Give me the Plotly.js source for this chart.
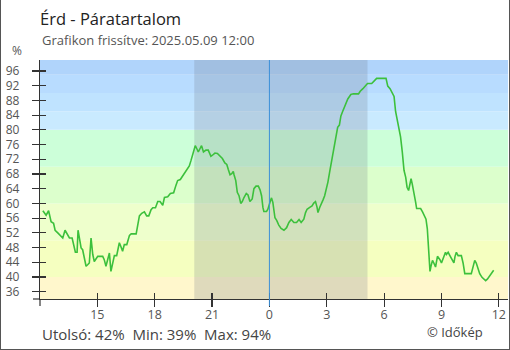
<!DOCTYPE html>
<html><head><meta charset="utf-8">
<script src="https://cdn.plot.ly/plotly-3.0.1.min.js"></script>
<style>
html,body{margin:0;padding:0;background:#fff;}
#wrap{position:relative;width:510px;height:350px;}
#chart{width:510px;height:350px;}
#frame{position:absolute;left:0;top:0;width:510px;height:350px;box-sizing:border-box;border-left:1px solid #555;border-right:1px solid #555;border-bottom:1px solid #555;pointer-events:none;}
</style></head><body>
<div id="wrap"><div id="chart"></div><div id="frame"></div></div>
<script>
// time in hours from noon of the previous day (24 = midnight)
const hours = [12.15,12.24,12.32,12.45,12.53,12.58,12.71,12.79,12.93,13.07,13.19,13.31,13.45,13.54,13.68,13.77,13.85,13.94,13.99,14.06,14.15,14.23,14.29,14.41,14.49,14.58,14.67,14.76,14.84,14.93,15.02,15.28,15.36,15.45,15.54,15.63,15.71,15.80,15.89,16.01,16.15,16.23,16.32,16.41,16.54,16.68,16.77,17.03,17.11,17.20,17.32,17.46,17.58,17.69,17.81,17.90,18.04,18.16,18.28,18.42,18.51,18.68,18.82,18.99,19.11,19.20,19.34,19.46,19.58,19.72,19.81,19.90,19.98,20.07,20.12,20.21,20.28,20.38,20.45,20.55,20.68,20.80,20.94,21.02,21.15,21.28,21.42,21.54,21.67,21.77,21.85,21.94,22.03,22.11,22.15,22.24,22.32,22.41,22.50,22.58,22.67,22.79,22.88,22.98,23.10,23.19,23.30,23.42,23.51,23.59,23.66,23.71,23.85,23.92,24.03,24.11,24.18,24.23,24.29,24.38,24.49,24.61,24.76,24.90,25.02,25.14,25.28,25.42,25.55,25.66,25.80,25.89,25.97,26.11,26.23,26.32,26.41,26.49,26.54,26.63,26.72,26.80,26.89,26.98,27.06,27.15,27.24,27.32,27.41,27.50,27.57,27.66,27.74,27.83,27.93,28.02,28.10,28.26,28.40,28.66,28.75,28.89,29.01,29.13,29.35,29.48,29.61,30.10,30.19,30.31,30.43,30.52,30.60,30.69,30.78,30.86,30.95,31.04,31.13,31.20,31.28,31.35,31.41,31.47,31.56,31.65,31.70,31.91,32.01,32.10,32.19,32.26,32.31,32.36,32.40,32.45,32.53,32.60,32.69,32.79,32.92,33.00,33.13,33.21,33.26,33.35,33.44,33.56,33.65,33.71,33.78,33.87,34.04,34.13,34.22,34.56,34.65,34.74,34.82,34.91,35.00,35.12,35.22,35.31,35.40,35.52,35.64,35.73];
const humidity = [58.0,57.5,56.8,58.0,56.1,55.0,54.6,52.7,52.0,51.3,50.6,52.7,51.6,50.6,50.6,48.8,46.7,46.7,52.7,50.6,47.9,47.4,46.1,42.9,43.3,43.8,50.6,46.1,44.2,45.1,45.6,45.6,44.7,42.9,45.1,46.5,41.5,43.3,45.8,45.8,49.3,48.3,47.0,48.8,48.8,51.3,51.7,51.7,53.9,56.6,57.3,57.7,56.6,56.6,58.3,58.8,58.8,60.5,60.5,59.5,61.6,61.8,62.7,62.9,64.9,66.2,66.5,67.4,68.3,69.4,70.2,71.7,73.1,74.5,75.7,74.8,74.0,75.0,75.7,74.0,74.5,74.5,72.8,73.1,73.7,73.6,72.8,72.2,71.0,70.6,69.2,67.8,68.1,68.7,67.8,66.2,63.0,62.1,60.0,60.5,61.6,62.7,62.3,60.5,61.2,64.0,64.7,64.7,63.7,62.1,58.9,57.8,57.8,58.4,60.3,61.5,60.3,58.0,56.1,55.4,54.1,53.2,52.7,53.4,54.8,55.6,54.8,54.8,55.6,54.8,55.7,57.5,58.4,58.9,59.3,60.1,60.5,59.0,57.5,58.9,59.8,60.9,62.1,64.0,65.8,68.5,71.3,73.6,76.3,79.1,80.7,81.3,83.8,85.0,86.4,87.3,88.4,89.6,89.8,89.8,90.5,91.2,91.9,92.6,92.6,93.3,94.0,94.0,91.9,91.2,90.2,89.1,85.0,82.7,80.4,78.1,74.0,69.0,67.1,64.4,63.5,65.8,66.7,65.3,62.1,60.3,58.6,58.6,57.7,56.6,55.7,53.1,48.5,43.8,41.5,42.9,44.5,43.8,42.7,45.6,44.7,43.8,45.8,46.7,46.1,46.7,45.8,44.5,43.8,45.6,46.7,45.8,45.8,43.8,40.9,40.9,42.4,44.5,43.8,42.0,40.9,39.9,39.3,39.0,39.4,40.3,41.0,41.8];

const xTickVals = [15,18,21,24,27,30,33,36];
const xTickLabels = ['15','18','21','0','3','6','9','12'];
const yTickVals = [36,40,44,48,52,56,60,64,68,72,76,80,84,88,92,96];

const bandLow = [0,40,50,60,70,80,85,90,95];
const bandHigh = [40,50,60,70,80,85,90,95,100];
const bandColors = ['#fff7cc','#f5ffc0','#eeffcc','#dcffcc','#ccffd9','#c9eaff','#bfe3ff','#b8dcff','#b0d4fb'];

const nightStart = 20.07;
const nightEnd = 29.13;
const midnight = 24;

const titleText = 'Érd - Páratartalom';
const subtitleText = 'Grafikon frissítve: 2025.05.09 12:00';
const statsText = 'Utolsó: 42%\u00A0\u00A0Min: 39%\u00A0\u00A0Max: 94%';
const creditText = '© Időkép';

const FONT = 'Open Sans, Noto Sans, sans-serif';
const plotW = 468, plotH = 239;

const shapes = [];
bandLow.forEach((lo, i) => {
  shapes.push({type:'rect', xref:'paper', yref:'y', x0:0, x1:1, y0:lo, y1:bandHigh[i],
    fillcolor:bandColors[i], line:{width:0}, layer:'below'});
});
shapes.push({type:'rect', xref:'x', yref:'paper', x0:nightStart, x1:nightEnd, y0:0, y1:1,
  fillcolor:'rgba(110,120,130,0.22)', line:{width:0}, layer:'below'});
shapes.push({type:'line', xref:'x', yref:'paper', x0:midnight, x1:midnight, y0:-7/plotH, y1:1,
  line:{color:'#3b8fd8', width:1}});
shapes.push({type:'line', xref:'paper', yref:'paper', x0:-7/plotW, x1:0, y0:0, y1:0,
  line:{color:'#333', width:1.2}});
shapes.push({type:'line', xref:'paper', yref:'paper', x0:0, x1:0, y0:-7/plotH, y1:0,
  line:{color:'#333', width:1.2}});

const traces = [
  {x:hours, y:humidity, type:'scatter', mode:'lines', line:{color:'#3cc03c', width:1.6},
   hoverinfo:'x+y', showlegend:false},
  {x:[hours[0]], y:[humidity[0]], type:'scatter', mode:'markers', marker:{opacity:0},
   xaxis:'x2', yaxis:'y2', hoverinfo:'skip', showlegend:false}
];

const tickStyle = {size:12, color:'#555', family:FONT};
const layout = {
  width:510, height:350,
  margin:{l:40, r:2, t:60, b:51, pad:0},
  paper_bgcolor:'#fff', plot_bgcolor:'#fff',
  showlegend:false,
  title:{text:titleText, font:{family:FONT, size:16.5, color:'#222'},
    xref:'container', yref:'container', x:40/510, xanchor:'left', y:1-19/350, yanchor:'middle'},
  xaxis:{range:[12,36.48], tickmode:'array', tickvals:xTickVals, ticktext:xTickLabels,
    ticks:'outside', ticklen:7, tickwidth:1.2, tickcolor:'#333', showline:true, linecolor:'#333', linewidth:1.2,
    showgrid:false, zeroline:false, tickfont:{size:12.5, color:'#555', family:FONT}, ticklabelstandoff:-3, fixedrange:true},
  xaxis2:{overlaying:'x', range:[12,36.48], tickmode:'array', tickvals:xTickVals,
    ticks:'inside', ticklen:6, tickwidth:1.2, tickcolor:'#333', showticklabels:false, showline:false,
    showgrid:false, zeroline:false, side:'bottom', fixedrange:true},
  yaxis:{range:[34,99], tickmode:'array', tickvals:yTickVals, ticks:'outside', ticklen:7, tickwidth:1.2,
    tickcolor:'#333', showline:true, linecolor:'#333', linewidth:1.2, showgrid:false, zeroline:false,
    tickfont:tickStyle, ticklabelstandoff:10, fixedrange:true},
  yaxis2:{overlaying:'y', range:[34,99], tickmode:'array', tickvals:yTickVals, ticks:'inside', ticklen:6,
    tickwidth:1.2, tickcolor:'#333', showticklabels:false, showline:false, showgrid:false, zeroline:false,
    side:'left', fixedrange:true},
  shapes:shapes,
  annotations:[
    {text:subtitleText, xref:'paper', yref:'paper', x:0, xanchor:'left', y:1+(60-40)/plotH, yanchor:'middle',
     showarrow:false, font:{family:FONT, size:13, color:'#555'}},
    {text:'%', xref:'paper', yref:'paper', x:-(40-17)/plotW, xanchor:'center', y:1+(60-51)/plotH, yanchor:'middle',
     showarrow:false, font:{family:FONT, size:12, color:'#555'}},
    {text:statsText, xref:'paper', yref:'paper', x:0, xanchor:'left', y:-(334-299)/plotH, yanchor:'middle',
     showarrow:false, font:{family:FONT, size:15, color:'#444'}},
    {text:creditText, xref:'paper', yref:'paper', x:(425-40)/plotW, xanchor:'left', y:-(332-299)/plotH, yanchor:'middle',
     showarrow:false, font:{family:FONT, size:13, color:'#444'}}
  ]
};

Plotly.newPlot('chart', traces, layout, {displayModeBar:false, staticPlot:true});
</script>
</body></html>
